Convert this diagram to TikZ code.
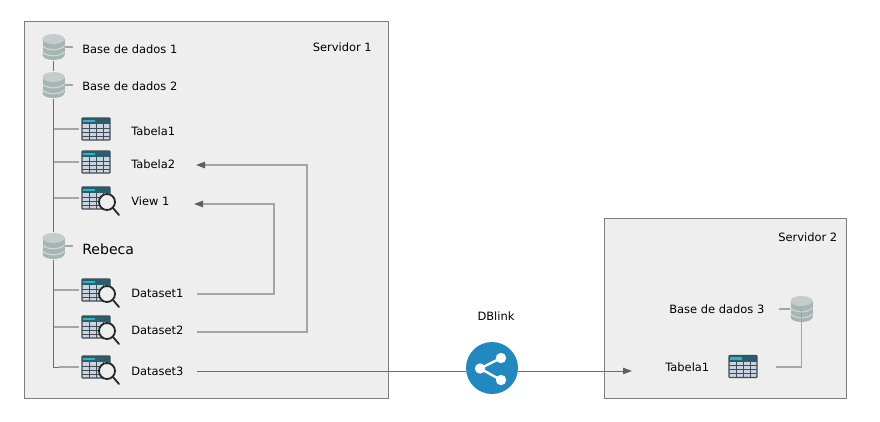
\documentclass[tikz,border=0pt]{standalone}
\usepackage{fontspec}
\setmainfont{DejaVu Sans}
\usetikzlibrary{arrows.meta,calc}
\definecolor{boxfill}{RGB}{238,238,238}
\definecolor{boxline}{RGB}{125,125,125}
\definecolor{wirelight}{RGB}{165,165,165}
\definecolor{wiredark}{RGB}{110,110,110}
\definecolor{tipcol}{RGB}{95,95,95}
\definecolor{dbtop}{RGB}{196,204,204}
\definecolor{dbbody}{RGB}{166,180,178}
\definecolor{dbband}{RGB}{205,213,211}
\definecolor{tabcell}{RGB}{202,212,224}
\definecolor{tabline}{RGB}{66,74,84}
\definecolor{tabhead}{RGB}{48,180,196}
\definecolor{tabheaddark}{RGB}{38,96,110}
\definecolor{sharecol}{RGB}{33,137,192}
\def\px{0.025cm}
\newcommand{\tablecode}{%
  \fill[tabcell] (-14,-11) rectangle (14,11);
  \fill[tabheaddark] (-14,-11) rectangle (14,-5);
  \fill[tabhead] (-13,-9.5) rectangle (-1,-7);
  \foreach \gx in {-7,0,7} \draw[tabline,line width=0.6pt] (\gx,-5) -- (\gx,11);
  \foreach \gy in {-1,3,7} \draw[tabline,line width=0.6pt] (-14,\gy) -- (14,\gy);
  \draw[tabline,line width=0.9pt,rounded corners=0.5pt] (-14,-11) rectangle (14,11);
}
\tikzset{
  servidor/.style={draw=boxline,fill=boxfill,line width=0.7pt},
  lbl/.style={inner sep=0pt,anchor=west,font=\fontsize{8.15}{10}\selectfont},
  trunk/.style={draw=wiredark,line width=0.7pt},
  branch/.style={draw=wirelight,line width=1pt},
  link/.style={draw=wiredark,line width=0.6pt},
  arrowlink/.style={link,-{Triangle[length=6.4pt,width=4.6pt,color=tipcol]}},
  pics/dbicon/.style={code={
    \node[minimum width=22*\px,minimum height=27*\px,inner sep=0pt] (-box) at (0,0) {};
    \fill[dbbody] (-11,-8) rectangle (11,8);
    \fill[dbbody] (0,8) ellipse [x radius=11,y radius=5];
    \draw[dbband,line width=0.9pt] (-11,-1) .. controls (-6,4) and (6,4) .. (11,-1);
    \draw[dbband,line width=0.9pt] (-11,5) .. controls (-6,10) and (6,10) .. (11,5);
    \fill[dbtop] (0,-8) ellipse [x radius=11,y radius=5];
  }},
  pics/tableicon/.style={code={
    \node[minimum width=28*\px,minimum height=22*\px,inner sep=0pt] (-box) at (0,0) {};
    \tablecode
  }},
  pics/viewicon/.style={code={
    \node[minimum width=28*\px,minimum height=22*\px,inner sep=0pt] (-box) at (0,0) {};
    \tablecode
    \draw[black!85,line width=1.3pt,line cap=round] (17,10) -- (23,17);
    \draw[black!85,fill=boxfill,line width=1.3pt] (11,4) circle [radius=8];
  }},
  pics/shareicon/.style={code={
    \node[circle,fill=sharecol,minimum size=52*\px,inner sep=0pt] (-box) at (0,0) {};
    \draw[white,line width=1.7pt] (9,-10) -- (-12,0.5) -- (9,12);
    \fill[white] (9,-10) circle [radius=5.2];
    \fill[white] (-12,0.5) circle [radius=5.2];
    \fill[white] (9,12) circle [radius=5.2];
  }},
}
\begin{document}
\begin{tikzpicture}[x=\px,y=-\px]
\useasboundingbox (0,0) rectangle (880,421);
% Servers
\node[servidor,minimum width=364*\px,minimum height=377*\px,inner sep=0pt] (srv1) at (206,209.5) {};
\node[servidor,minimum width=242*\px,minimum height=180*\px,inner sep=0pt] (srv2) at (725,308) {};
\node[lbl] (srv1lbl) at (312.5,47) {Servidor 1};
\node[lbl] (srv2lbl) at (778,237.5) {Servidor 2};

% Left tree
\pic (db1) at (53.5,47) {dbicon};
\pic (db2) at (53.5,85) {dbicon};
\pic (rebeca) at (53.5,246) {dbicon};
\pic (tab1) at (96,129) {tableicon};
\pic (tab2) at (96,162) {tableicon};
\pic (view1) at (96,198) {viewicon};
\pic (ds1) at (96,290) {viewicon};
\pic (ds2) at (96,327) {viewicon};
\pic (ds3) at (96,367) {viewicon};

\node[lbl] (db1lbl) at (82,49) {Base de dados 1};
\node[lbl] (db2lbl) at (82,86.5) {Base de dados 2};
\node[lbl,font=\fontsize{10}{12}\selectfont] (rebecalbl) at (82,249) {Rebeca};
\node[lbl] (tab1lbl) at (131,131) {Tabela1};
\node[lbl] (tab2lbl) at (131,164.5) {Tabela2};
\node[lbl] (view1lbl) at (131,201) {View 1};
\node[lbl] (ds1lbl) at (131,293) {Dataset1};
\node[lbl] (ds2lbl) at (131,330) {Dataset2};
\node[lbl] (ds3lbl) at (131,371) {Dataset3};

\draw[trunk] (db1-box.south) -- (db2-box.north);
\draw[trunk] (db2-box.south) -- (rebeca-box.north);
\draw[trunk] (rebeca-box.south) |- ([xshift=-23*\px]ds3-box.west);
\foreach \ic in {tab1,tab2,view1,ds1,ds2}
  \draw[branch] (rebeca-box.center |- \ic-box.west) -- ([xshift=-3*\px]\ic-box.west);
\draw[branch] ([xshift=-3*\px]ds3-box.west) -- +(-20,0);
\foreach \ic in {db1,db2,rebeca}
  \draw[branch] (\ic-box.east) -- +(8,0);

% Right server
\pic (db3) at (801.5,309) {dbicon};
\pic (tab3) at (743,366.5) {tableicon};
\node[lbl] (db3lbl) at (669,309.5) {Base de dados 3};
\node[lbl] (tab3lbl) at (665,367.5) {Tabela1};
\coordinate (tab3out) at (776,367);
\draw[branch] (tab3out) -| (db3-box.center);
\draw[branch] (db3-box.west) -- +(-11,0);

% Arrows between labels
\coordinate (ds1out) at (197,294);
\coordinate (ds2out) at (197,332);
\coordinate (ds3out) at (197,371);
\coordinate (view1in) at (194,204);
\coordinate (tab2in) at (196,165);
\coordinate (tab3in) at (632,371);
\coordinate (turn1) at (274,204);
\coordinate (turn2) at (307,165);
\draw[arrowlink,draw=wirelight,line width=0.9pt] (ds1out) -| (turn1) -- (view1in);
\draw[arrowlink,draw=wirelight,line width=0.9pt] (ds2out) -| (turn2) -- (tab2in);

% DBlink
\node[lbl,anchor=center] (dblbl) at (496,316) {DBlink};
\pic (share) at (492,368) {shareicon};
\draw[link] (ds3out) -- (ds3out -| share-box.west);
\draw[arrowlink] (ds3out -| share-box.east) -- (tab3in);
\end{tikzpicture}
\end{document}
